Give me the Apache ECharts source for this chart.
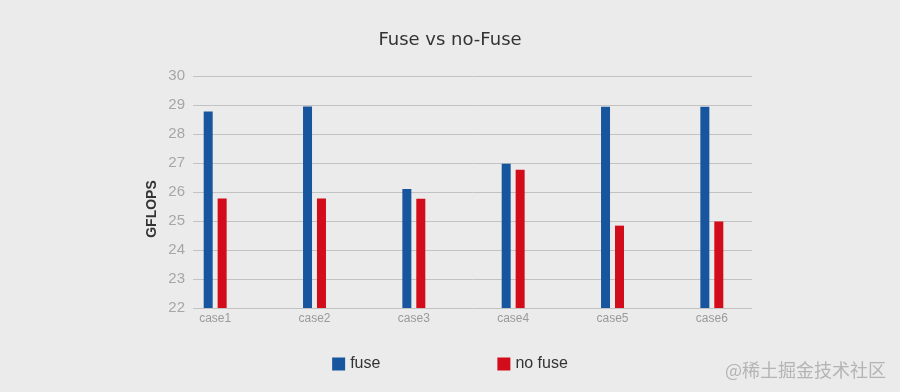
<!DOCTYPE html>
<html>
<head>
<meta charset="utf-8">
<script src="https://cdn.jsdelivr.net/npm/echarts@6/dist/echarts.min.js"></script>
<style>
  html, body { margin: 0; padding: 0; background: #ebebeb; }
  #chart { width: 900px; height: 392px; }
</style>
</head>
<body>
<div id="chart"></div>
<script>
// Benchmark cases and measured throughput (GFLOPS)
const categories = ['case1', 'case2', 'case3', 'case4', 'case5', 'case6'];
const fuseValues = [28.78, 28.95, 26.1, 26.97, 28.94, 28.94];
const noFuseValues = [25.78, 25.78, 25.77, 26.77, 24.84, 24.98];
const seriesNames = ['fuse', 'no fuse'];
const yMin = 22;
const yMax = 30;
const yStep = 1;

const chart = echarts.init(document.getElementById('chart'), null, { renderer: 'canvas' });
const font = 'Liberation Sans, Arial, sans-serif';

chart.setOption({
  backgroundColor: '#ebebeb',
  animation: false,
  title: {
    text: 'Fuse vs no-Fuse',
    left: 'center',
    top: 26,
    textStyle: { fontFamily: 'DejaVu Sans', fontSize: 18, fontWeight: 'normal', color: '#333' }
  },
  legend: {
    data: seriesNames,
    left: 'center',
    top: 351,
    icon: 'rect',
    itemWidth: 13,
    itemHeight: 13,
    itemGap: 117,
    textStyle: { fontFamily: font, fontSize: 16, color: '#333' }
  },
  grid: [
    // value grid: gridlines and y labels
    { left: 193, right: 148, top: 76, bottom: 84 },
    // category grid for bars and case labels
    { left: 165.5, width: 596, top: 76, bottom: 84 }
  ],
  xAxis: [
    { gridIndex: 0, type: 'category', data: categories, show: false },
    {
      gridIndex: 1, type: 'category', data: categories,
      axisLine: { show: false }, axisTick: { show: false },
      axisLabel: { color: '#9a9a9a', fontSize: 12, margin: 5, fontFamily: font }
    }
  ],
  yAxis: [
    {
      gridIndex: 0, type: 'value', min: yMin, max: yMax, interval: yStep,
      axisLine: { show: false }, axisTick: { show: false },
      splitLine: { lineStyle: { color: '#c2c2c2', width: 1 } },
      axisLabel: { color: '#a6a6a6', fontSize: 15, margin: 8, fontFamily: font }
    },
    { gridIndex: 1, type: 'value', min: yMin, max: yMax, interval: yStep, show: false }
  ],
  series: [
    {
      name: seriesNames[0], type: 'bar', xAxisIndex: 1, yAxisIndex: 1,
      data: fuseValues, barWidth: 9, barGap: '55%',
      itemStyle: { color: '#17559f' }
    },
    {
      name: seriesNames[1], type: 'bar', xAxisIndex: 1, yAxisIndex: 1,
      data: noFuseValues, barWidth: 9, barGap: '55%',
      itemStyle: { color: '#d20c1b' }
    }
  ],
  graphic: [
    {
      type: 'text', x: 152.5, y: 209, rotation: Math.PI / 2,
      style: {
        text: 'GFLOPS', fontFamily: font, fontSize: 14, fontWeight: 'bold',
        fill: '#333', textAlign: 'center', textVerticalAlign: 'middle'
      }
    },
    {
      type: 'text', x: 725, y: 370,
      style: {
        text: '@稀土掘金技术社区', fontFamily: 'Noto Sans CJK SC', fontSize: 18,
        fill: '#b4b4b4', textAlign: 'left', textVerticalAlign: 'middle'
      }
    }
  ]
});
</script>
</body>
</html>
